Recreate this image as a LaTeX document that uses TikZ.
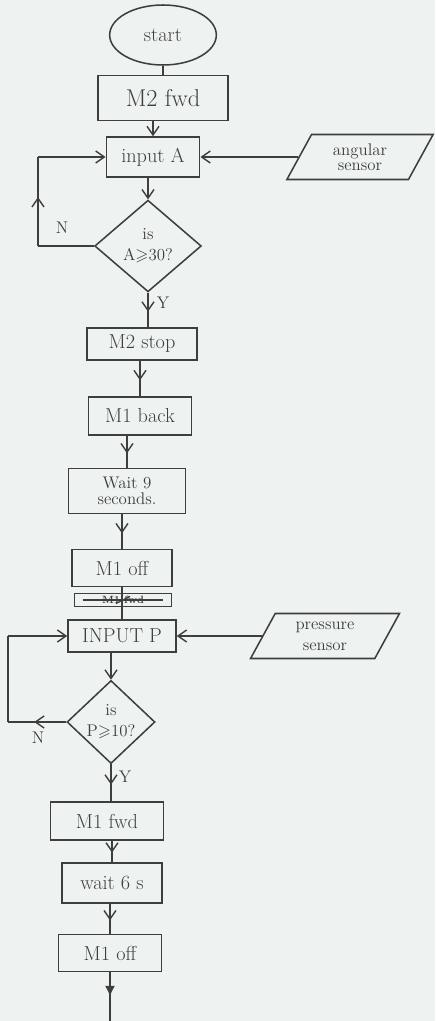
\documentclass[tikz,border=0pt]{standalone}
\usepackage{amssymb}
\usepackage{xcolor}
\usepackage{tikz}
\usetikzlibrary{arrows.meta,positioning,shapes.geometric,decorations.markings}

\definecolor{paper}{HTML}{EEF2F0}
\definecolor{ink}{HTML}{3E3E3E}

\begin{document}
\begin{tikzpicture}[
  x=0.03cm, y=-0.03cm,
  every node/.style={font=\LARGE, text=ink},
  box/.style={draw=ink, line width=1.3pt, align=center, inner sep=2pt},
  io/.style={trapezium, trapezium left angle=64, trapezium right angle=116, draw=ink, line width=1.3pt,
    align=center, font=\Large, inner sep=1pt, minimum height=1.35cm, trapezium stretches=true},
  test/.style={diamond, draw=ink, line width=1.3pt, align=center, inner sep=0pt, font=\Large},
  wire/.style={draw=ink, line width=1.3pt},
  flow/.style={wire, postaction={decorate}, decoration={markings,
    mark=at position 0.55 with {\arrow{Straight Barb[length=2.6mm, width=3.6mm, line width=1.2pt]}}}},
  arr/.style={wire, -{Straight Barb[length=2.6mm, width=3.6mm, line width=1.2pt]}},
  flowfill/.style={wire, postaction={decorate}, decoration={markings,
    mark=at position 0.5 with {\arrow{Latex[length=3.2mm, width=3mm]}}}},
  lbl/.style={font=\Large}
]
  % paper
  \fill[paper] (0,0) rectangle (435,1021);
  \useasboundingbox (0,0) rectangle (435,1021);

  % first motor stage
  \node[ellipse, draw=ink, line width=1.3pt, minimum width=3.2cm, minimum height=1.8cm] (start) at (163,35) {start};
  \node[box, minimum width=3.9cm, minimum height=1.35cm, font=\huge] (m2fwd) at (163,98) {M2 fwd};
  \node[box, minimum width=2.8cm, minimum height=1.2cm] (inA) at (153,157) {input A};
  \node[io, minimum width=4.4cm] (angsens) at (360,157) {angular\\[-5pt]sensor};
  \node[test, minimum width=3.2cm, minimum height=2.75cm] (testA) at (148,246) {is\\A$\geqslant$30?};
  \node[box, minimum width=3.3cm, minimum height=0.96cm] (m2stop) at (142,344) {M2 stop};
  \node[box, minimum width=3.1cm, minimum height=1.14cm] (m1back) at (140,416) {M1 back};
  \node[box, minimum width=3.5cm, minimum height=1.35cm, font=\Large] (wait9) at (127,491) {Wait 9\\[-4pt]seconds.};
  \node[box, minimum width=3.0cm, minimum height=1.1cm] (m1offA) at (122,568) {M1 off};

  % crossed out step
  \node[box, line width=1pt, minimum width=2.9cm, minimum height=0.39cm, inner sep=0pt, font=\small\bfseries] (scrap) at (123,600) {M1 fwd};
  \draw[ink, line width=1pt] ([xshift=-6pt, yshift=-3pt]scrap.center) -- ([xshift=6pt, yshift=3pt]scrap.center);
  \draw[ink, line width=1pt] ([xshift=-1.2cm]scrap.center) -- ([xshift=1.2cm]scrap.center);

  % second motor stage
  \node[box, minimum width=3.24cm, minimum height=0.96cm] (inP) at (122,636) {INPUT P};
  \node[io, minimum width=4.5cm] (pressens) at (325,636) {pressure\\[0pt]sensor};
  \node[test, minimum width=2.64cm, minimum height=2.46cm] (testP) at (111,722) {is\\P$\geqslant$10?};
  \node[box, minimum width=3.4cm, minimum height=1.14cm] (m1fwd) at (107,821) {M1 fwd};
  \node[box, minimum width=3.0cm, minimum height=1.2cm] (wait6) at (112,883) {wait 6 s};
  \node[box, minimum width=3.1cm, minimum height=1.1cm] (m1offB) at (110,953) {M1 off};
  \coordinate (finish) at (110,1021);

  % main line
  \draw[wire] (start.south) -- (start.south |- m2fwd.north);
  \draw[arr] (m2fwd.south -| inA.north) -- (inA.north);
  \draw[arr] (inA.south -| testA.north) -- (testA.north);
  \draw[flow] (testA.south) -- (testA.south |- m2stop.north);
  \draw[flow] (m2stop.south -| m1back.north) -- (m1back.north);
  \draw[flow] (m1back.south -| wait9.north) -- (wait9.north);
  \draw[flow] (wait9.south -| m1offA.north) -- (m1offA.north);
  \draw[wire] (m1offA.south -| inP.north) -- (inP.north);
  \draw[arr] (inP.south -| testP.north) -- (testP.north);
  \draw[flow] (testP.south) -- (testP.south |- m1fwd.north);
  \draw[flow] (m1fwd.south -| wait6.north) -- (wait6.north);
  \draw[flow] (wait6.south -| m1offB.north) -- (m1offB.north);
  \draw[flowfill] (m1offB.south) -- (finish);

  % sensor inputs
  \draw[arr] (angsens.west) -- (inA.east);
  \draw[arr] (pressens.west) -- (inP.east);

  % N loops
  \coordinate (loopA) at (38,157);
  \draw[wire] (testA.west) -- (testA.west -| loopA);
  \draw[flow] (testA.west -| loopA) -- (loopA);
  \draw[arr] (loopA) -- (inA.west);
  \coordinate (loopP) at (8,636);
  \draw[flow] (testP.west) -- (testP.west -| loopP);
  \draw[wire] (testP.west -| loopP) -- (loopP);
  \draw[arr] (loopP) -- (inP.west);

  % branch labels
  \node[lbl] (nA) at (62,228) {N};
  \node[lbl] (yA) at (163,303) {Y};
  \node[lbl] (nP) at (38,738) {N};
  \node[lbl] (yP) at (125,777) {Y};
\end{tikzpicture}
\end{document}
